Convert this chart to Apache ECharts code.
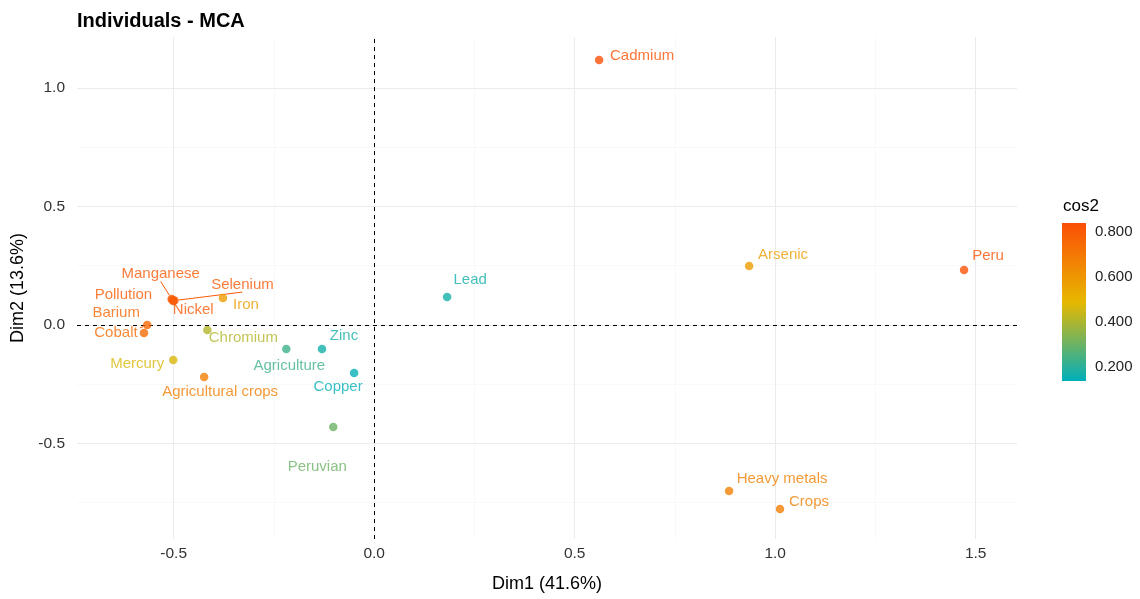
<!DOCTYPE html>
<html><head><meta charset="utf-8">
<script src="https://cdn.jsdelivr.net/npm/echarts@6/dist/echarts.min.js"></script>
<style>html,body{margin:0;padding:0;background:#fff}#c{width:1140px;height:599px}</style>
</head><body><div id="c"></div>
<script>
// ---- data ----
const names = ['Cadmium','Arsenic','Peru','Lead','Heavy metals','Crops','Peruvian','Copper','Zinc','Agriculture','Chromium','Iron','Nickel','Selenium','Manganese','Pollution','Barium','Cobalt','Mercury','Agricultural crops'];
const dim1 = [0.561, 0.935, 1.471, 0.182, 0.885, 1.012, -0.102, -0.050, -0.130, -0.219, -0.416, -0.377, -0.501, -0.498, -0.505, -0.503, -0.566, -0.574, -0.501, -0.424];
const dim2 = [1.118, 0.249, 0.232, 0.118, -0.700, -0.776, -0.430, -0.203, -0.101, -0.101, -0.021, 0.114, 0.101, 0.103, 0.110, 0.105, 0.000, -0.034, -0.148, -0.219];
const cos2 = [0.83, 0.58, 0.82, 0.17, 0.67, 0.68, 0.30, 0.15, 0.17, 0.23, 0.41, 0.58, 0.80, 0.80, 0.80, 0.79, 0.76, 0.74, 0.47, 0.68];
const xTicks = [-0.5, 0, 0.5, 1, 1.5];
const yTicks = [-0.5, 0, 0.5, 1];
const xMinor = [-0.25, 0.25, 0.75, 1.25];
const yMinor = [-0.75, -0.25, 0.25, 0.75];
const legendTicks = [0.2, 0.4, 0.6, 0.8];
const cosRange = [0.138, 0.84];

// ---- layout (label placement, px offsets of label centre from point) ----
const labelOffsets = {
  'Cadmium':[43,-4], 'Arsenic':[34,-11], 'Peru':[24,-14], 'Lead':[23,-17],
  'Heavy metals':[53,-12], 'Crops':[29,-7], 'Peruvian':[-16,40], 'Copper':[-16,14],
  'Zinc':[22,-13], 'Agriculture':[3,17], 'Chromium':[36,8], 'Iron':[23,7],
  'Nickel':[20,9], 'Selenium':[68,-16], 'Manganese':[-11,-25], 'Pollution':[-49,-5],
  'Barium':[-31,-12], 'Cobalt':[-28,0], 'Mercury':[-36,4], 'Agricultural crops':[16,15]
};
const withSegment = ['Selenium','Barium','Manganese'];
const gradCols = ['#00AFBB', '#E7B800', '#FC4E07'];
const FONT = 'Liberation Sans';

const chart = echarts.init(document.getElementById('c'), null, {renderer:'canvas'});
const pts = names.map((n,i)=>{
  const d = {name:n, value:[dim1[i], dim2[i], cos2[i]], label:{offset:labelOffsets[n]}};
  if (withSegment.indexOf(n) >= 0) d.labelLine = {show:true, lineStyle:{width:1}};
  return d;
});

const gl = (arr, key, color, w) => arr.map(v => ({[key]: v, lineStyle:{color:color, width:w, type:'solid'}}));

const option = {
  animation:false,
  backgroundColor:'#fff',
  title:[
    {text:'Individuals - MCA', left:72, top:6, textStyle:{fontFamily:FONT, fontWeight:'bold', fontSize:20, color:'#000'}},
    {text:'cos2', left:1058, top:193, textStyle:{fontFamily:FONT, fontWeight:'normal', fontSize:17, color:'#000'}}
  ],
  grid:[
    {left:77, right:123, top:37, bottom:60, containLabel:false},
    {left:1062, width:24, top:223, height:158}
  ],
  xAxis:[
    {type:'value', gridIndex:0, min:-0.741, max:1.603,
     name:'Dim1 (41.6%)', nameLocation:'middle', nameGap:36,
     nameTextStyle:{fontFamily:FONT, fontSize:18, color:'#000'},
     axisLine:{show:false}, splitLine:{show:false},
     axisTick:{show:true, length:4, customValues:xTicks, lineStyle:{color:'#333'}},
     axisLabel:{customValues:xTicks, margin:7, fontFamily:FONT, fontSize:15.5, color:'#333', formatter:v=>v.toFixed(1)}},
    {type:'value', gridIndex:1, show:false, min:0, max:1}
  ],
  yAxis:[
    {type:'value', gridIndex:0, min:-0.903, max:1.215,
     name:'Dim2 (13.6%)', nameLocation:'middle', nameGap:50, nameRotate:90,
     nameTextStyle:{fontFamily:FONT, fontSize:18, color:'#000'},
     axisLine:{show:false}, splitLine:{show:false},
     axisTick:{show:true, length:5, customValues:yTicks, lineStyle:{color:'#333'}},
     axisLabel:{customValues:yTicks, margin:12, fontFamily:FONT, fontSize:15.5, color:'#333', formatter:v=>v.toFixed(1)}},
    {type:'value', gridIndex:1, min:cosRange[0], max:cosRange[1], position:'right',
     axisLine:{show:false}, splitLine:{show:false},
     axisTick:{show:true, inside:true, length:5, customValues:legendTicks, lineStyle:{color:'#fff', width:1}},
     axisLabel:{customValues:legendTicks, margin:9, fontFamily:FONT, fontSize:15, color:'#222', formatter:v=>v.toFixed(3)}}
  ],
  visualMap:{show:false, type:'continuous', dimension:2, seriesIndex:2, min:cosRange[0], max:cosRange[1], inRange:{color:gradCols}},
  graphic:[
    {type:'rect', left:1062, top:223, z:-1, shape:{width:24, height:158},
     style:{fill:new echarts.graphic.LinearGradient(0,0,0,1,[{offset:0,color:gradCols[2]},{offset:0.5,color:gradCols[1]},{offset:1,color:gradCols[0]}])}}
  ],
  series:[
    {type:'line', xAxisIndex:0, yAxisIndex:0, data:[], silent:true, z:1,
     markLine:{silent:true, z:1, symbol:'none', label:{show:false}, animation:false,
       data:[...gl(xMinor,'xAxis','#f5f5f5',0.6), ...gl(yMinor,'yAxis','#f5f5f5',0.6),
             ...gl(xTicks,'xAxis','#ebebeb',1), ...gl(yTicks,'yAxis','#ebebeb',1)]}},
    {type:'line', xAxisIndex:0, yAxisIndex:0, data:[], silent:true, z:2,
     markLine:{silent:true, z:2, symbol:'none', label:{show:false}, animation:false,
       lineStyle:{color:'#000', width:1, type:[4,4]},
       data:[{xAxis:0},{yAxis:0}]}},
    {type:'scatter', xAxisIndex:0, yAxisIndex:0, z:10, symbol:'circle', symbolSize:8.5,
     data:pts,
     labelLine:{show:false},
     label:{show:true, position:'inside', formatter:'{b}', color:'inherit', fontFamily:FONT, fontSize:15}}
  ]
};
chart.setOption(option);
</script>
</body></html>
